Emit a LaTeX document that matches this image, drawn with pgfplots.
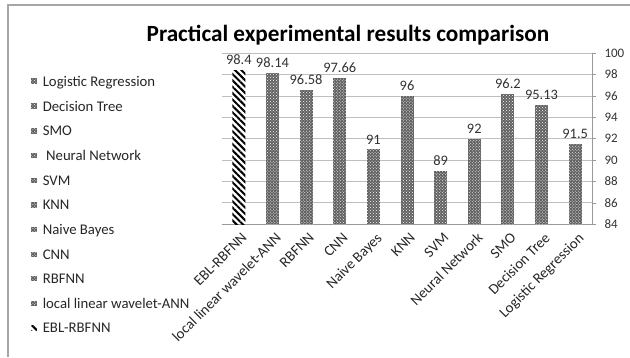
\documentclass[border=0pt]{standalone}
\usepackage{fontspec}
\setmainfont{Carlito}
\usepackage{pgfplots}
\pgfplotsset{compat=1.18}
\usetikzlibrary{patterns,patterns.meta}

\tikzset{
  dotbar/.style={fill=black!62, draw=none, postaction={pattern=crosshatch dots, pattern color=white}},
  eblbar/.style={fill=white, draw=none, postaction={pattern={Lines[angle=-45,distance=4.5bp,line width=2bp]}, pattern color=black}},
}

\begin{document}
\begin{tikzpicture}[x=1bp,y=1bp]
\path[use as bounding box] (0,0) rectangle (630,357);
\draw[gray!70, line width=2bp] (8,0) -- (8,352) -- (630,352);
\node[font=\bfseries\fontsize{23.3}{28}\selectfont] at (348,322) {Practical experimental results comparison};
\begin{axis}[
  at={(222bp,133bp)}, anchor=south west,
  scale only axis, width=370bp, height=171bp,
  clip=false,
  xmin=-0.5, xmax=10.5, ymin=84, ymax=100,
  ytick={84,86,...,100},
  yticklabel pos=right,
  axis x line*=bottom, axis y line*=right,
  axis line style={gray!80},
  ymajorgrids, major grid style={gray!50},
  ytick style={draw=gray!80},
  tick align=outside, major tick length=4bp,
  /pgf/number format/assume math mode=true,
  y tick label style={font=\fontsize{13}{15}\selectfont, text=black!80, xshift=5bp},
  xtick={0,...,10},
  xticklabels={EBL-RBFNN, local linear wavelet-ANN, RBFNN, CNN, Naive Bayes, KNN, SVM, Neural Network, SMO, Decision Tree, Logistic Regression},
  x tick label style={rotate=45, anchor=north east, font=\fontsize{14.8}{16}\selectfont, text=black!85, inner sep=1bp, yshift=-3bp},
  xtick style={draw=none},
  extra x ticks={-0.5,0.5,...,10.5},
  extra x tick labels={},
  extra x tick style={grid=none, major tick length=5bp, tick style={draw=gray!80}},
  ybar, bar width=13bp, bar shift=0pt,
  nodes near coords,
  every node near coord/.append style={font=\fontsize{14.5}{16}\selectfont, text=black!80, yshift=1.5bp},
  reverse legend,
  legend image code/.code={\path[#1] (0bp,-2bp) rectangle (5.5bp,3.5bp);},
  legend cell align=left,
  legend style={at={(-0.524,0.89)}, anchor=north west, draw=none, fill=none,
    font=\fontsize{14.8}{17}\selectfont, text=black!85, row sep=9.4bp,
    /tikz/every odd column/.append style={column sep=4bp}},
]
\addplot[eblbar]  coordinates {(0,98.4)};  \addlegendentry{EBL-RBFNN}
\addplot[dotbar]  coordinates {(1,98.14)}; \addlegendentry{local linear wavelet-ANN}
\addplot[dotbar]  coordinates {(2,96.58)}; \addlegendentry{RBFNN}
\addplot[dotbar]  coordinates {(3,97.66)}; \addlegendentry{CNN}
\addplot[dotbar]  coordinates {(4,91)};    \addlegendentry{Naive Bayes}
\addplot[dotbar]  coordinates {(5,96)};    \addlegendentry{KNN}
\addplot[dotbar]  coordinates {(6,89)};    \addlegendentry{SVM}
\addplot[dotbar]  coordinates {(7,92)};    \addlegendentry{~Neural Network}
\addplot[dotbar]  coordinates {(8,96.2)};  \addlegendentry{SMO}
\addplot[dotbar]  coordinates {(9,95.13)}; \addlegendentry{Decision Tree}
\addplot[dotbar]  coordinates {(10,91.5)}; \addlegendentry{Logistic Regression}
\end{axis}
\end{tikzpicture}
\end{document}
